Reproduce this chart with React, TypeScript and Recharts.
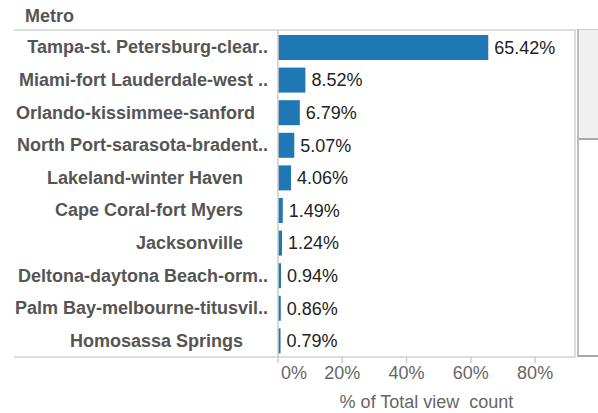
import React from 'react';
import { BarChart, Bar, XAxis, YAxis, LabelList } from 'recharts';

const metros = [
  'Tampa-st. Petersburg-clear..',
  'Miami-fort Lauderdale-west ..',
  'Orlando-kissimmee-sanford',
  'North Port-sarasota-bradent..',
  'Lakeland-winter Haven',
  'Cape Coral-fort Myers',
  'Jacksonville',
  'Deltona-daytona Beach-orm..',
  'Palm Bay-melbourne-titusvil..',
  'Homosassa Springs',
];
const shares = [65.42, 8.52, 6.79, 5.07, 4.06, 1.49, 1.24, 0.94, 0.86, 0.79];
const xTicks = [0, 20, 40, 60, 80];

const data = metros.map((name, i) => ({ name, share: shares[i] }));

const FONT = '"Liberation Sans", Arial, sans-serif';

// width of a label in the bold tick font, so long ones can be pushed right like Tableau does
let ctx: CanvasRenderingContext2D | null = null;
function labelWidth(s: string) {
  if (!ctx) ctx = document.createElement('canvas').getContext('2d');
  if (!ctx) return 0;
  ctx.font = 'bold 18px "Liberation Sans"';
  return ctx.measureText(s).width;
}

function MetroTick(props: any) {
  const { y, payload } = props;
  const label: string = payload.value;
  const clipped = label.endsWith('..');
  const right = clipped ? 268 : Math.max(243, 16 + labelWidth(label));
  return (
    <text
      x={right}
      y={y}
      dy={6}
      textAnchor="end"
      fontFamily={FONT}
      fontSize={18}
      fontWeight="bold"
      fill="#555"
    >
      {label}
    </text>
  );
}

function PctTick(props: any) {
  const { x, y, payload } = props;
  const first = payload.value === 0;
  return (
    <text
      x={first ? x + 3 : x}
      y={y}
      dy={14}
      textAnchor={first ? 'start' : 'middle'}
      fontFamily={FONT}
      fontSize={18}
      fill="#666"
    >
      {payload.value}%
    </text>
  );
}

export default function App() {
  return (
    <div style={{ position: 'fixed', left: 0, top: 0, width: 598, height: 413, background: '#fff', fontFamily: FONT }}>
      <div style={{ position: 'absolute', left: 25, top: 6, fontSize: 18, fontWeight: 'bold', color: '#555' }}>Metro</div>
      {/* header rule and bottom rule */}
      <div style={{ position: 'absolute', left: 14, top: 29, width: 562, height: 2, background: '#ddd' }} />
      <div style={{ position: 'absolute', left: 14, top: 356, width: 562, height: 2, background: '#ddd' }} />
      {/* right border of the pane */}
      <div style={{ position: 'absolute', left: 574, top: 29, width: 2, height: 329, background: '#ddd' }} />
      {/* scrollbar */}
      <div style={{ position: 'absolute', left: 577, top: 29, width: 21, height: 326, borderLeft: '2px solid #bbb', borderBottom: '2px solid #aaa', background: '#fff' }}>
        <div style={{ height: 108, background: '#f0f0f0', borderBottom: '2px solid #aaa', borderTop: '1px solid #ccc' }} />
      </div>
      <BarChart
        width={598}
        height={413}
        data={data}
        layout="vertical"
        margin={{ top: 31, right: 23, bottom: 0, left: 0 }}
        barCategoryGap={8}
        style={{ position: 'absolute', left: 0, top: 0 }}
      >
        <XAxis
          type="number"
          domain={[0, 92.4]}
          ticks={xTicks}
          height={56}
          axisLine={false}
          tickLine={{ stroke: '#ccc', strokeWidth: 1.5 }}
          tickSize={6}
          tick={<PctTick />}
          interval={0}
          label={(p: any) => (
            <text
              x={278 + 297 / 2}
              y={408}
              textAnchor="middle"
              fontFamily={FONT}
              fontSize={18}
              fill="#666"
              style={{ whiteSpace: 'pre' }}
            >
              % of Total view  count
            </text>
          )}
        />
        <YAxis
          type="category"
          dataKey="name"
          width={278}
          axisLine={{ stroke: '#ccc', strokeWidth: 1.5 }}
          tickLine={false}
          tick={<MetroTick />}
          interval={0}
        />
        <Bar dataKey="share" fill="#1f77b4" barSize={25} isAnimationActive={false}>
          <LabelList
            dataKey="share"
            position="right"
            offset={6}
            formatter={(v: any) => `${Number(v).toFixed(2)}%`}
            fontFamily={FONT}
            fontSize={18}
            fill="#222"
          />
        </Bar>
      </BarChart>
    </div>
  );
}
